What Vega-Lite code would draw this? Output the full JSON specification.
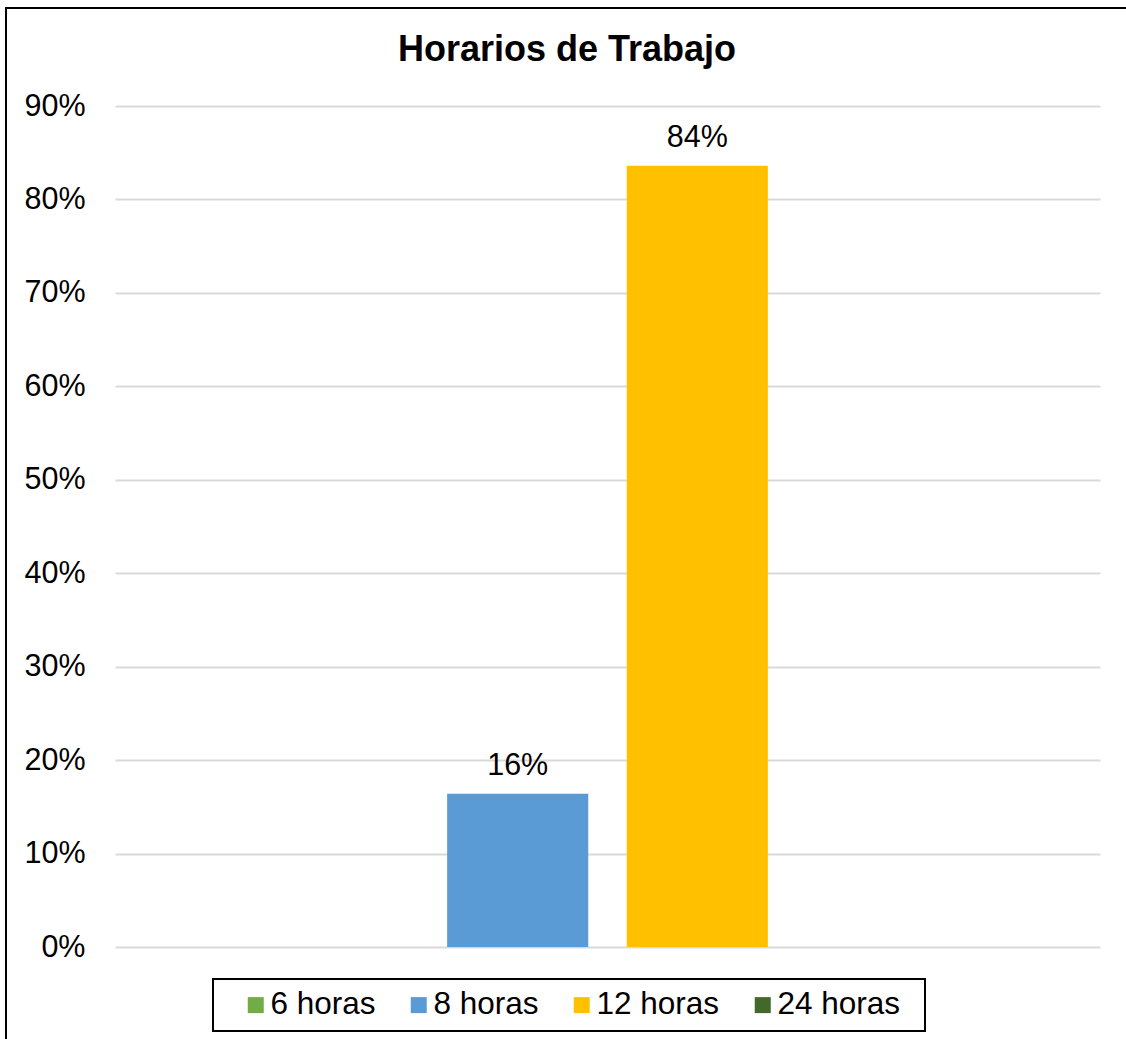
{
  "$schema": "https://vega.github.io/schema/vega-lite/v6.json",
  "width": 1122,
  "height": 1033,
  "autosize": {"type": "none"},
  "padding": {"left": 6, "top": 8, "right": -2, "bottom": -2},
  "background": "white",
  "title": {
    "text": "Horarios de Trabajo",
    "fontSize": 36,
    "fontWeight": "bold",
    "font": "Liberation Sans",
    "color": "#000000",
    "anchor": "middle",
    "frame": "group",
    "dx": 0,
    "offset": -89,
    "baseline": "alphabetic"
  },
  "data": {
    "values": [
      {"serie": "6 horas", "valor": null},
      {"serie": "8 horas", "valor": 0.164},
      {"serie": "12 horas", "valor": 0.836},
      {"serie": "24 horas", "valor": null}
    ]
  },
  "encoding": {
    "x": {
      "field": "serie",
      "type": "nominal",
      "scale": {
        "domain": ["6 horas", "8 horas", "12 horas", "24 horas"],
        "range": [109, 1094],
        "paddingInner": 0.2144,
        "paddingOuter": 0.849
      },
      "axis": null
    },
    "y": {
      "field": "valor",
      "type": "quantitative",
      "scale": {"domain": [0, 0.9], "range": [939, 98], "nice": false, "zero": true},
      "axis": {
        "values": [0, 0.1, 0.2, 0.3, 0.4, 0.5, 0.6, 0.7, 0.8, 0.9],
        "format": ".0%",
        "title": null,
        "offset": -109,
        "domain": false,
        "ticks": false,
        "tickSize": 0,
        "labelPadding": 30,
        "labelFont": "Liberation Sans",
        "labelFontSize": 30.5,
        "labelColor": "#000000",
        "gridColor": "#d9d9d9",
        "gridWidth": 2
      }
    }
  },
  "layer": [
    {
      "mark": {"type": "bar", "strokeWidth": 0},
      "encoding": {
        "color": {
          "field": "serie",
          "type": "nominal",
          "scale": {
            "domain": ["6 horas", "8 horas", "12 horas", "24 horas"],
            "range": ["#70AD47", "#5B9BD5", "#FFC000", "#43682B"]
          },
          "legend": {
            "title": " ",
            "titleOrient": "right",
            "titlePadding": 15,
            "titleFontSize": 10,
            "orient": "none",
            "legendX": 207,
            "legendY": 971,
            "direction": "horizontal",
            "columns": 4,
            "columnPadding": 10,
            "padding": 10,
            "symbolOffset": 17,
            "symbolType": "square",
            "symbolSize": 256,
            "symbolStrokeWidth": 0,
            "labelOffset": -1,
            "labelFont": "Liberation Sans",
            "labelFontSize": 31.5,
            "labelColor": "#000000",
            "strokeColor": "#000000",
            "fillColor": "#ffffff"
          }
        }
      }
    },
    {
      "mark": {
        "type": "text",
        "baseline": "alphabetic",
        "dy": -19,
        "font": "Liberation Sans",
        "fontSize": 30.5,
        "color": "#000000"
      },
      "encoding": {
        "text": {"field": "valor", "type": "quantitative", "format": ".0%"}
      }
    }
  ],
  "config": {
    "view": {"stroke": "#000000", "strokeWidth": 2, "fill": "#ffffff"},
    "legend": {"strokeWidth": 2}
  }
}
